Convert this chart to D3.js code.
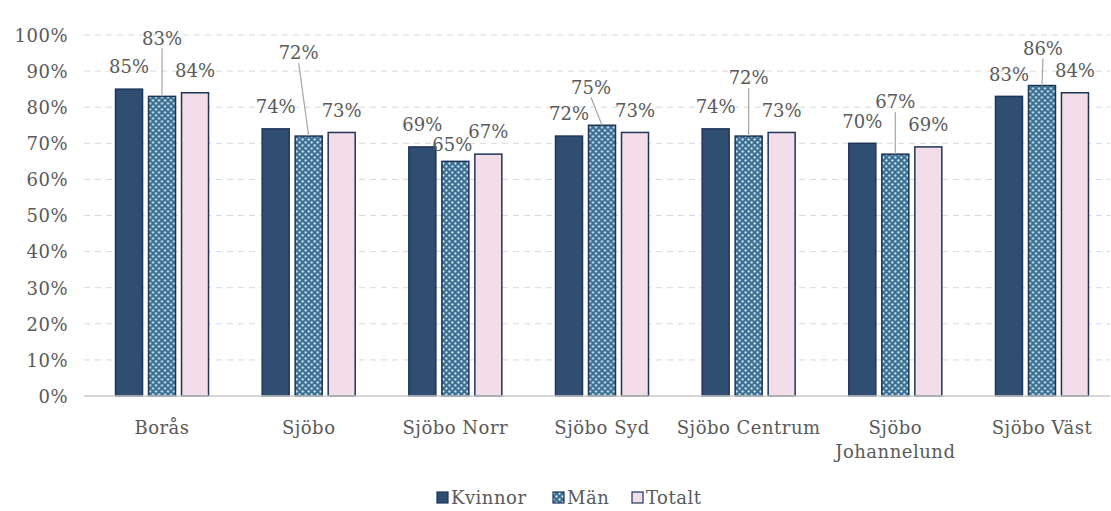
<!DOCTYPE html>
<html><head><meta charset="utf-8">
<script src="https://cdn.jsdelivr.net/npm/d3@7"></script>
<style>
html,body{margin:0;padding:0;background:#fff;}
svg text{font-family:"DejaVu Serif",serif;fill:#595959;}
</style></head>
<body>
<svg id="chart" width="1111" height="511"></svg>
<script>
// ---- data ----
const categories = ["Borås","Sjöbo","Sjöbo Norr","Sjöbo Syd","Sjöbo Centrum","Sjöbo\nJohannelund","Sjöbo Väst"];
const series = ["Kvinnor","Män","Totalt"];
const kvinnor = [0.85,0.74,0.69,0.72,0.74,0.70,0.83];
const man     = [0.83,0.72,0.65,0.75,0.72,0.67,0.86];
const totalt  = [0.84,0.73,0.67,0.73,0.73,0.69,0.84];
const yTicks  = [0,0.1,0.2,0.3,0.4,0.5,0.6,0.7,0.8,0.9,1.0];

// ---- layout of the Män labels (pixel nudges: dx, dy from bar top) ----
const manLabelNudge = [[0,-58],[-10,-83],[-3,-17],[-11,-38],[0,-58],[0,-52],[1,-37]];

const values = {"Kvinnor":kvinnor,"Män":man,"Totalt":totalt};

const svg = d3.select("#chart");
const defs = svg.append("defs");
const pat = defs.append("pattern").attr("id","dots").attr("patternUnits","userSpaceOnUse")
  .attr("width",6).attr("height",6);
pat.append("rect").attr("width",6).attr("height",6).attr("fill","#3a6d92");
pat.append("circle").attr("cx",1.5).attr("cy",1.5).attr("r",1.15).attr("fill","#dcf1f7");
pat.append("circle").attr("cx",4.5).attr("cy",4.5).attr("r",1.15).attr("fill","#dcf1f7");

const fills = {"Kvinnor":"#2f4e72","Män":"url(#dots)","Totalt":"#f3dde9"};
const stroke = "#1f3558";
const FS = "18px";

const y = d3.scaleLinear().domain([0,1]).range([396,35]);
const x0 = d3.scaleBand().domain(categories).range([88.7,1115.3]);
const x1 = d3.scaleBand().domain(series).range([0,99]).paddingInner(6/33).paddingOuter(3/33);
const gOff = x0.bandwidth()/2 - 49.5;

// gridlines
svg.append("g").selectAll("line").data(yTicks.filter(d=>d>0)).join("line")
  .attr("x1",84).attr("x2",1110).attr("y1",d=>y(d)).attr("y2",d=>y(d))
  .attr("stroke","#d9d9d9").attr("stroke-width",1).attr("stroke-dasharray","6,5");

// y axis labels
const yAxis = d3.axisLeft(y).tickValues(yTicks).tickFormat(d3.format(".0%")).tickSize(0).tickPadding(0);
const ya = svg.append("g").attr("transform","translate(68,0)").call(yAxis);
ya.select(".domain").remove();
ya.selectAll("text").style("font-family","DejaVu Serif").style("font-size",FS)
  .style("letter-spacing","0.5px").attr("fill","#595959").attr("dy","0.35em");

// bars
const groups = svg.append("g").selectAll("g").data(categories).join("g")
  .attr("transform",d=>`translate(${x0(d)+gOff},0)`);
groups.each(function(cat,ci){
  const g = d3.select(this);
  series.forEach(s=>{
    const v = values[s][ci];
    g.append("rect").attr("x",x1(s)).attr("width",x1.bandwidth())
      .attr("y",y(v)).attr("height",y(0)-y(v))
      .attr("fill",fills[s]).attr("stroke",stroke).attr("stroke-width",1.5);
  });
});

// axis line
svg.append("line").attr("x1",84).attr("x2",1110).attr("y1",y(0)).attr("y2",y(0))
  .attr("stroke","#c8c8c8").attr("stroke-width",1.5);

// data labels
const fmt = d3.format(".0%");
groups.each(function(cat,ci){
  const g = d3.select(this);
  series.forEach(s=>{
    const v = values[s][ci];
    const cx = x1(s)+x1.bandwidth()/2;
    let dx = 0, dy = -22;
    if (s==="Män"){ dx = manLabelNudge[ci][0]; dy = manLabelNudge[ci][1]; }
    const ly = y(v)+dy;
    if (s==="Män" && dy < -30){
      g.append("line").attr("x1",cx+dx).attr("y1",ly+10).attr("x2",cx).attr("y2",y(v))
        .attr("stroke","#a6a6a6").attr("stroke-width",1.2);
    }
    g.append("text").attr("x",cx+dx).attr("y",ly).attr("dy","0.35em")
      .attr("text-anchor","middle").style("font-size",FS).style("letter-spacing","0px")
      .text(fmt(v));
  });
});

// category labels
svg.append("g").selectAll("text").data(categories).join("text")
  .attr("x",d=>x0(d)+x0.bandwidth()/2).attr("y",428).attr("text-anchor","middle")
  .style("font-size",FS).style("letter-spacing","0.5px")
  .each(function(d){
    const t = d3.select(this);
    d.split("\n").forEach((line,i)=>{
      t.append("tspan").attr("x",x0(d)+x0.bandwidth()/2).attr("dy",i===0?"0.35em":"1.3em").text(line);
    });
  });

// legend
const legendX = [437,553,632];
const lg = svg.append("g");
series.forEach((s,i)=>{
  lg.append("rect").attr("x",legendX[i]).attr("y",492).attr("width",11).attr("height",11)
    .attr("fill",fills[s]).attr("stroke",stroke).attr("stroke-width",1.2);
  lg.append("text").attr("x",legendX[i]+14).attr("y",497.5).attr("dy","0.35em")
    .style("font-size",FS).style("letter-spacing","0.5px").text(s);
});
</script>
</body></html>
